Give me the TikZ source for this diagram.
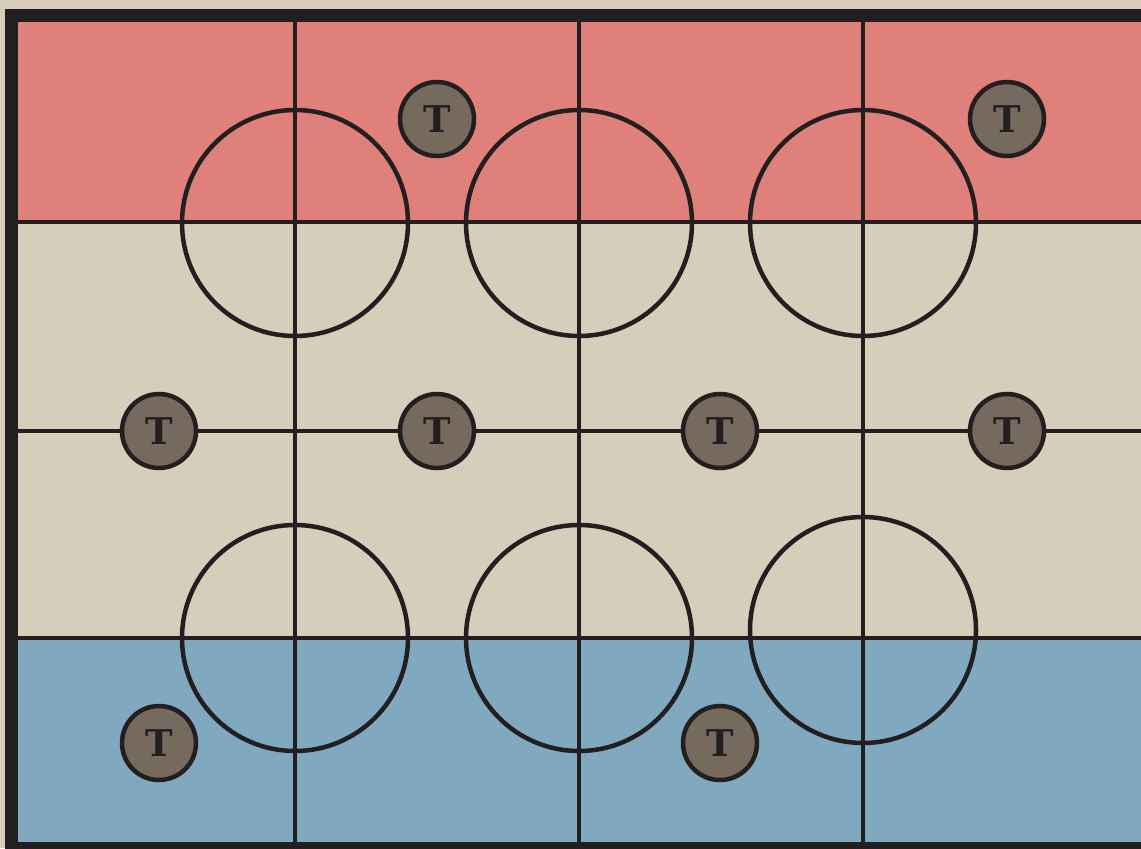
\documentclass[tikz,border=0pt]{standalone}
\usepackage{fontspec}
\usepackage{tikz}
\usetikzlibrary{positioning}
\newfontfamily\tokenfont{DejaVu Serif}
\definecolor{boardbg}{RGB}{214,205,186}
\definecolor{boardred}{RGB}{224,128,122}
\definecolor{boardblue}{RGB}{128,168,191}
\definecolor{inkdark}{RGB}{35,31,32}
\definecolor{tokenfill}{RGB}{118,106,94}
\tikzset{
  gridline/.style={inkdark, line width=0.09cm},
  midline/.style={inkdark, line width=0.07cm},
  ring/.style={inkdark, line width=0.09cm},
  token/.style={circle, draw=inkdark, fill=tokenfill, line width=0.09cm,
                minimum size=1.48cm, inner sep=0pt, text=inkdark,
                font=\tokenfont\bfseries\fontsize{21}{21}\selectfont},
}
\begin{document}
\begin{tikzpicture}[x=0.02cm, y=-0.02cm]
  \useasboundingbox (0,0) rectangle (1141,848);
  \clip (0,0) rectangle (1141,848);
  \fill[boardbg] (0,0) rectangle (1141,848);
  % colour bands
  \fill[boardred] (18,22) rectangle (1141,222);
  \fill[boardblue] (18,638) rectangle (1141,842);
  % grid
  \draw[midline] (18,431) -- (1141,431);
  \draw[gridline] (18,222) -- (1141,222);
  \draw[gridline] (18,638) -- (1141,638);
  \foreach \x in {295,579,863}{\draw[gridline] (\x,22) -- (\x,842);}
  % rings
  \foreach \x in {295,579,863}{\draw[ring] (\x,223) circle (113);}
  \draw[ring] (295,638) circle (113);
  \draw[ring] (579,638) circle (113);
  \draw[ring] (863,630) circle (113);
  % frame
  \draw[inkdark, line width=0.26cm, line join=miter]
    (1160,15.5) -- (11.5,15.5) -- (11.5,848.5) -- (1160,848.5);
  % tokens
  \node[token] (tA) at (437,119) {T};
  \node[token] (tB) at (1007,119) {T};
  \node[token] (tC) at (159,431) {T};
  \node[token] (tD) at (437,431) {T};
  \node[token] (tE) at (720,431) {T};
  \node[token] (tF) at (1007,431) {T};
  \node[token] (tG) at (159,743) {T};
  \node[token] (tH) at (720,743) {T};
\end{tikzpicture}
\end{document}
